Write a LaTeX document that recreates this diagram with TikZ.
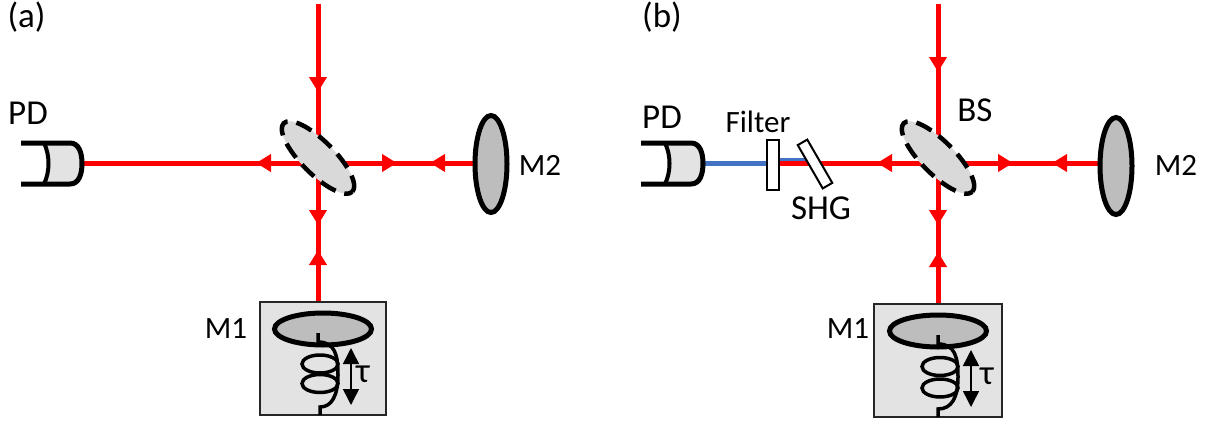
\documentclass[tikz,border=0pt]{standalone}
\usepackage{fontspec}
\setmainfont{Carlito}
\usetikzlibrary{shapes.geometric,arrows.meta,decorations.markings}
\pgfdeclarelayer{bg}
\pgfsetlayers{bg,main}
\definecolor{beamred}{HTML}{FF0000}
\definecolor{beamblue}{HTML}{4472C4}
\definecolor{mirrorgray}{HTML}{BDBDBD}
\definecolor{bsgray}{HTML}{D9D9D9}
\definecolor{unitgray}{HTML}{E3E3E3}
\tikzset{
  beam/.style={draw=beamred,line width=5pt},
  bluebeam/.style={draw=beamblue,line width=5pt},
  tipat/.style={postaction={decorate,decoration={markings,mark=at position #1 with {\arrow[beamred]{Triangle[length=15pt,width=17pt]}}}}},
  bsplit/.style={ellipse,draw=black,fill=bsgray,line width=4.5pt,inner sep=0pt,outer sep=0pt,minimum width=97pt,minimum height=33pt,rotate=-45,dash pattern=on 17pt off 9pt},
  flatmirror/.style={ellipse,draw=black,fill=mirrorgray,line width=5pt,inner sep=0pt,outer sep=0pt,minimum width=32pt,minimum height=97pt},
  stagemirror/.style={ellipse,draw=black,fill=mirrorgray,line width=5pt,inner sep=0pt,outer sep=0pt,minimum width=97pt,minimum height=32pt},
  stagebox/.style={draw=black!85,fill=unitgray,line width=2pt,inner sep=0pt,outer sep=0pt},
  pdbody/.style={draw=none,inner sep=0pt,outer sep=0pt,minimum width=62pt,minimum height=41pt},
  optic/.style={draw=black,fill=white,line width=2pt,inner sep=0pt,outer sep=0pt},
  lbl/.style={inner sep=0pt,font=\fontsize{31pt}{33pt}\selectfont},
  biglbl/.style={inner sep=0pt,font=\fontsize{35pt}{37pt}\selectfont},
  travel/.style={draw=black,line width=1.5pt,{Triangle[length=16pt,width=16pt]}-{Triangle[length=16pt,width=16pt]}},
  wire/.style={draw=black,line width=3.5pt},
}
\begin{document}
\begin{tikzpicture}[x=1pt,y=-1pt]
\useasboundingbox (0,0) rectangle (1209,423);
% ---------- panel (a)
\node[biglbl] (tagA) at (26.5,17) {(a)};
\coordinate (topA) at (318,4);
\coordinate (crossA) at (318,163);
\node[pdbody] (pdA) at (52,163) {};
\fill[unitgray] (44,143) .. controls (50,155) and (50,172) .. (44,184) -- (70,184) .. controls (79,184) and (82,174) .. (82,163.5) .. controls (82,153) and (79,143) .. (70,143) -- cycle;
\draw[black,line width=5pt,line join=round] (21,143) -- (70,143) .. controls (79,143) and (82,153) .. (82,163.5) .. controls (82,174) and (79,184) .. (70,184) -- (21,184);
\draw[black,line width=4pt] (44,143) .. controls (50,155) and (50,172) .. (44,184);
\node[biglbl] (pdlabelA) at (28,113) {PD};
\node[bsplit] (bsA) at (318,157.5) {};
\node[flatmirror] (m2A) at (491,164) {};
\node[lbl] (m2labelA) at (540,165) {M2};
\node[stagebox,minimum width=126pt,minimum height=113pt] (boxA) at (323,358.5) {};
\node[stagemirror] (m1A) at (323,329) {};
\node[lbl] (m1labelA) at (226,329) {M1};
\draw[wire] (318,333) -- (318,342) .. controls (335,342) and (338,355) .. (338,375) .. controls (338,395) and (332,407) .. (320,407) -- (320,415);
\draw[wire] (320,364) ellipse (18pt and 9pt);
\draw[wire] (320,383.5) ellipse (18pt and 9pt);
\coordinate (tauTopA) at (351,348);
\coordinate (tauBotA) at (351,405);
\draw[travel] (tauTopA) -- (tauBotA);
\node[biglbl] (taulabelA) at (363,374) {τ};
\coordinate (m2EntryA) at (491,163);
\begin{pgfonlayer}{bg}
\draw[beam,tipat=88pt] (topA) -- (crossA);
\draw[beam,tipat=62pt] (crossA) -- (pdA.east);
\draw[beam,tipat=79pt] (crossA) -- (m2EntryA);
\draw[beam,tipat=61pt] (m2EntryA) -- (crossA);
\draw[beam,tipat=62pt] (crossA) -- (boxA.north -| crossA);
\draw[beam,tipat=52pt] (boxA.north -| crossA) -- (crossA);
\end{pgfonlayer}
% ---------- panel (b)
\node[biglbl] (tagB) at (662,17) {(b)};
\coordinate (topB) at (938,4);
\coordinate (crossB) at (938,163);
\node[pdbody] (pdB) at (672,163.5) {};
\fill[unitgray] (665,143) .. controls (671,155) and (671,172) .. (665,184) -- (691,184) .. controls (700,184) and (703,174) .. (703,163.5) .. controls (703,153) and (700,143) .. (691,143) -- cycle;
\draw[black,line width=5pt,line join=round] (641,143) -- (691,143) .. controls (700,143) and (703,153) .. (703,163.5) .. controls (703,174) and (700,184) .. (691,184) -- (641,184);
\draw[black,line width=4pt] (665,143) .. controls (671,155) and (671,172) .. (665,184);
\node[biglbl] (pdlabelB) at (662,117) {PD};
\node[lbl] (filterlabel) at (758,122) {Filter};
\node[biglbl] (shglabel) at (821,208) {SHG};
\node[biglbl] (bslabel) at (975,110) {BS};
\node[optic,minimum width=12pt,minimum height=50pt] (filter) at (773,165) {};
\node[optic,minimum width=11pt,minimum height=50pt,rotate=30] (shg) at (815,164) {};
\node[bsplit] (bsB) at (938,157.5) {};
\node[flatmirror] (m2B) at (1116,166) {};
\node[lbl] (m2labelB) at (1176,165) {M2};
\node[stagebox,minimum width=128pt,minimum height=113pt] (boxB) at (938,360.5) {};
\node[stagemirror] (m1B) at (938,331) {};
\node[lbl] (m1labelB) at (848,329) {M1};
\draw[wire] (938,335) -- (938,344) .. controls (955,344) and (958,357) .. (958,377) .. controls (958,397) and (952,409) .. (938,409) -- (938,417);
\draw[wire] (940,366.5) ellipse (18pt and 9pt);
\draw[wire] (940,388) ellipse (18pt and 9pt);
\coordinate (tauTopB) at (971,350);
\coordinate (tauBotB) at (971,407);
\draw[travel] (tauTopB) -- (tauBotB);
\node[biglbl] (taulabelB) at (987,376) {τ};
\coordinate (blueStart) at (779,159.5);
\coordinate (blueEnd) at (807,159.5);
\coordinate (redEnd) at (779,163);
\coordinate (m2EntryB) at (1116,163);
\begin{pgfonlayer}{bg}
\draw[beam,tipat=68pt] (topB) -- (crossB);
\draw[beam,tipat=61pt] (crossB) -- (redEnd);
\draw[beam,tipat=75pt] (crossB) -- (m2EntryB);
\draw[beam,tipat=64pt] (m2EntryB) -- (crossB);
\draw[beam,tipat=62pt] (crossB) -- (m1B.north);
\draw[beam,tipat=52pt] (boxB.north -| crossB) -- (crossB);
\draw[bluebeam] (pdB.east) -- (filter.west |- pdB.east);
\draw[bluebeam,line width=3.5pt] (blueStart) -- (blueEnd);
\end{pgfonlayer}
\end{tikzpicture}
\end{document}
